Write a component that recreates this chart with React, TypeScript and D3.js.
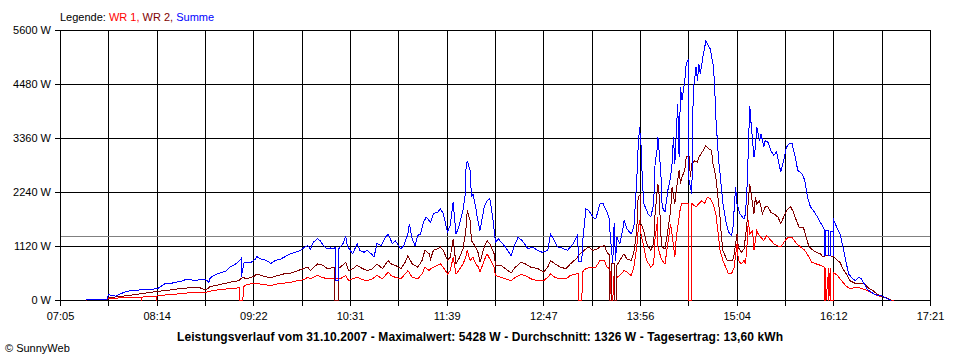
import React from "react";
import * as d3 from "d3";

// time axis labels (every second grid line) and power ticks
const xTickLabels = ["07:05", "08:14", "09:22", "10:31", "11:39", "12:47", "13:56", "15:04", "16:12", "17:21"];
const yTicks = [0, 1120, 2240, 3360, 4480, 5600];
const average = 1326;

const legendItems = [
  { label: "WR 1,", color: "#ff0000" },
  { label: "WR 2,", color: "#800000" },
  { label: "Summe", color: "#0000ff" },
];

const title =
  "Leistungsverlauf vom 31.10.2007 - Maximalwert: 5428 W - Durchschnitt: 1326 W - Tagesertrag: 13,60 kWh";

// [time, W]
const wr1: [string, number][] = [
  ["07:23", 10], ["07:38", 20], ["07:39", 40], ["07:45", 50], ["07:55", 70], ["08:02", 70], ["08:02", 0], ["08:02", 70],
  ["08:07", 80], ["08:13", 90], ["08:13", 0], ["08:13", 90], ["08:14", 100], ["08:21", 120], ["08:30", 140], ["08:39", 170],
  ["08:48", 170], ["08:53", 210], ["09:03", 240], ["09:10", 260], ["09:12", 270], ["09:12", 0], ["09:14", 0], ["09:15", 310],
  ["09:20", 350], ["09:24", 350], ["09:29", 330], ["09:34", 310], ["09:39", 350], ["09:43", 360], ["09:48", 380], ["09:53", 410],
  ["09:57", 430], ["10:00", 480], ["10:02", 450], ["10:07", 520], ["10:11", 470], ["10:16", 450], ["10:20", 450], ["10:23", 450],
  ["10:27", 520], ["10:29", 410], ["10:32", 450], ["10:35", 480], ["10:39", 430], ["10:42", 410], ["10:46", 450], ["10:49", 520],
  ["10:53", 450], ["10:57", 590], ["10:59", 520], ["11:02", 480], ["11:06", 450], ["11:09", 550], ["11:11", 620], ["11:14", 480],
  ["11:18", 450], ["11:21", 550], ["11:23", 690], ["11:26", 620], ["11:27", 660], ["11:29", 690], ["11:32", 730], ["11:34", 760],
  ["11:36", 690], ["11:39", 550], ["11:41", 620], ["11:43", 900], ["11:45", 550], ["11:47", 620], ["11:50", 760], ["11:52", 900],
  ["11:53", 1040], ["11:55", 830], ["11:57", 900], ["11:59", 760], ["12:01", 690], ["12:02", 590], ["12:05", 830], ["12:07", 970],
  ["12:09", 860], ["12:12", 690], ["12:13", 520], ["12:17", 480], ["12:20", 450], ["12:24", 410], ["12:27", 480], ["12:31", 540],
  ["12:34", 520], ["12:38", 450], ["12:43", 410], ["12:47", 410], ["12:50", 480], ["12:52", 550], ["12:55", 480], ["12:59", 450],
  ["13:03", 450], ["13:06", 520], ["13:10", 550], ["13:12", 560], ["13:12", 0], ["13:14", 0], ["13:15", 620], ["13:17", 660],
  ["13:20", 690], ["13:24", 690], ["13:27", 830], ["13:30", 830], ["13:32", 690], ["13:34", 660], ["13:35", 0], ["13:36", 0],
  ["13:37", 560], ["13:37", 0], ["13:39", 0], ["13:39", 480], ["13:41", 520], ["13:44", 620], ["13:46", 590], ["13:49", 520],
  ["13:51", 690], ["13:53", 1110], ["13:54", 1450], ["13:55", 1660], ["13:56", 1380], ["13:58", 1110], ["14:00", 830], ["14:03", 690],
  ["14:05", 760], ["14:06", 1310], ["14:08", 1730], ["14:08", 1110], ["14:10", 900], ["14:11", 830], ["14:13", 760], ["14:15", 1180],
  ["14:17", 1590], ["14:18", 1380], ["14:20", 900], ["14:21", 1310], ["14:23", 1730], ["14:24", 1940], ["14:25", 2010], ["14:27", 2010],
  ["14:30", 2010], ["14:30", 0], ["14:32", 0], ["14:32", 2010], ["14:35", 1940], ["14:37", 2010], ["14:39", 2070], ["14:41", 2010],
  ["14:43", 2140], ["14:45", 2110], ["14:47", 2010], ["14:49", 1800], ["14:51", 1310], ["14:52", 1040], ["14:54", 830], ["14:56", 690],
  ["14:58", 550], ["15:00", 550], ["15:02", 690], ["15:04", 1180], ["15:05", 830], ["15:07", 760], ["15:09", 830], ["15:10", 760],
  ["15:11", 1110], ["15:12", 1660], ["15:13", 1380], ["15:15", 1450], ["15:16", 1040], ["15:18", 1450], ["15:19", 1380], ["15:21", 1310],
  ["15:23", 1240], ["15:25", 1350], ["15:27", 1280], ["15:30", 1180], ["15:32", 1140], ["15:35", 1110], ["15:38", 1240], ["15:40", 1310],
  ["15:43", 1310], ["15:46", 1180], ["15:49", 1110], ["15:52", 1040], ["15:55", 900], ["15:57", 790], ["16:00", 760], ["16:03", 730],
  ["16:06", 690], ["16:06", 0], ["16:07", 680], ["16:07", 0], ["16:09", 680], ["16:09", 0], ["16:10", 670], ["16:10", 0],
  ["16:12", 0], ["16:12", 590], ["16:15", 520], ["16:18", 410], ["16:21", 310], ["16:24", 240], ["16:28", 280], ["16:31", 260],
  ["16:35", 220], ["16:39", 170], ["16:42", 120], ["16:46", 80], ["16:49", 60], ["16:53", 10], ["16:55", 0],
];

const wr2: [string, number][] = [
  ["07:23", 10], ["07:38", 20], ["07:39", 60], ["07:47", 80], ["08:02", 140], ["08:14", 190], ["08:21", 210], ["08:28", 240],
  ["08:35", 260], ["08:44", 260], ["08:48", 220], ["08:51", 290], ["08:58", 330], ["09:05", 380], ["09:11", 410], ["09:14", 480],
  ["09:17", 450], ["09:22", 500], ["09:24", 550], ["09:29", 500], ["09:34", 470], ["09:39", 520], ["09:43", 550], ["09:48", 570],
  ["09:53", 620], ["09:57", 660], ["10:00", 690], ["10:02", 620], ["10:07", 760], ["10:11", 730], ["10:14", 660], ["10:18", 680],
  ["10:19", 680], ["10:19", 0], ["10:22", 0], ["10:22", 690], ["10:23", 690], ["10:27", 790], ["10:29", 620], ["10:32", 660],
  ["10:35", 730], ["10:39", 660], ["10:42", 620], ["10:46", 660], ["10:49", 760], ["10:53", 660], ["10:57", 830], ["10:59", 760],
  ["11:02", 730], ["11:06", 660], ["11:09", 790], ["11:11", 930], ["11:14", 760], ["11:18", 690], ["11:21", 830], ["11:23", 1040],
  ["11:26", 970], ["11:27", 860], ["11:29", 1040], ["11:32", 1070], ["11:34", 1110], ["11:36", 1040], ["11:39", 830], ["11:41", 900],
  ["11:43", 1280], ["11:45", 760], ["11:47", 860], ["11:50", 1070], ["11:52", 1450], ["11:53", 1870], ["11:55", 1660], ["11:56", 1240],
  ["11:59", 1110], ["12:01", 970], ["12:02", 790], ["12:05", 1110], ["12:07", 1240], ["12:09", 1180], ["12:12", 970], ["12:13", 730],
  ["12:17", 730], ["12:20", 660], ["12:24", 570], ["12:27", 690], ["12:31", 790], ["12:34", 760], ["12:38", 690], ["12:43", 660],
  ["12:47", 590], ["12:50", 690], ["12:52", 830], ["12:55", 760], ["12:59", 690], ["13:03", 660], ["13:06", 760], ["13:10", 860],
  ["13:13", 970], ["13:17", 1070], ["13:19", 1110], ["13:22", 1040], ["13:25", 1070], ["13:27", 1110], ["13:30", 1140], ["13:32", 1000],
  ["13:34", 930], ["13:34", 0], ["13:35", 0], ["13:35", 760], ["13:37", 760], ["13:37", 0], ["13:39", 0], ["13:39", 730],
  ["13:41", 830], ["13:44", 970], ["13:46", 860], ["13:49", 830], ["13:51", 1000], ["13:53", 1450], ["13:54", 2140], ["13:56", 2210],
  ["13:56", 1590], ["13:58", 1450], ["14:00", 1180], ["14:03", 1040], ["14:05", 1180], ["14:06", 1800], ["14:08", 2420], ["14:09", 2140],
  ["14:10", 1380], ["14:11", 1110], ["14:13", 1070], ["14:15", 1450], ["14:17", 1870], ["14:18", 2350], ["14:20", 2010], ["14:21", 2280],
  ["14:23", 2700], ["14:24", 2420], ["14:25", 2560], ["14:27", 2700], ["14:28", 2970], ["14:30", 3010], ["14:31", 2560], ["14:32", 2840],
  ["14:34", 2900], ["14:36", 2870], ["14:37", 2970], ["14:40", 3110], ["14:42", 3210], ["14:44", 3150], ["14:46", 3110], ["14:47", 2840],
  ["14:49", 2560], ["14:50", 2280], ["14:52", 1730], ["14:53", 1310], ["14:54", 1040], ["14:57", 830], ["14:59", 830], ["15:01", 830],
  ["15:02", 970], ["15:04", 1380], ["15:05", 1100], ["15:07", 1000], ["15:09", 1070], ["15:11", 1590], ["15:12", 2070], ["15:13", 2420],
  ["15:14", 2210], ["15:16", 1800], ["15:17", 2140], ["15:18", 2010], ["15:20", 2070], ["15:22", 1800], ["15:24", 1940], ["15:26", 1940],
  ["15:28", 1830], ["15:30", 1800], ["15:33", 1730], ["15:35", 1590], ["15:38", 1800], ["15:40", 1900], ["15:42", 1940], ["15:44", 1830],
  ["15:46", 1660], ["15:48", 1520], ["15:51", 1520], ["15:53", 1310], ["15:55", 1110], ["15:58", 1040], ["16:00", 1000], ["16:03", 970],
  ["16:05", 900], ["16:07", 930], ["16:10", 930], ["16:13", 900], ["16:15", 830], ["16:17", 790], ["16:19", 660], ["16:22", 520],
  ["16:24", 410], ["16:28", 350], ["16:31", 360], ["16:34", 350], ["16:37", 260], ["16:40", 210], ["16:43", 140], ["16:47", 80],
  ["16:51", 40], ["16:54", 0],
];

const summe: [string, number][] = [
  ["07:23", 20], ["07:38", 30], ["07:39", 120], ["07:44", 90], ["07:50", 170], ["07:55", 210], ["08:02", 220], ["08:09", 230],
  ["08:14", 250], ["08:16", 290], ["08:19", 350], ["08:23", 350], ["08:26", 380], ["08:30", 390], ["08:34", 440], ["08:37", 430],
  ["08:41", 410], ["08:44", 440], ["08:48", 430], ["08:50", 380], ["08:51", 470], ["08:55", 540], ["08:58", 570], ["09:02", 610],
  ["09:05", 690], ["09:09", 760], ["09:12", 830], ["09:13", 870], ["09:13", 480], ["09:15", 790], ["09:16", 790], ["09:20", 790],
  ["09:23", 860], ["09:24", 910], ["09:27", 860], ["09:30", 840], ["09:34", 770], ["09:37", 830], ["09:41", 860], ["09:44", 910],
  ["09:48", 970], ["09:51", 1000], ["09:55", 1040], ["09:57", 1090], ["10:00", 1140], ["10:02", 1070], ["10:04", 1210], ["10:07", 1280],
  ["10:09", 1240], ["10:11", 1140], ["10:14", 1070], ["10:16", 1090], ["10:18", 1070], ["10:20", 1110], ["10:20", 410], ["10:22", 410],
  ["10:22", 1070], ["10:23", 1110], ["10:25", 1180], ["10:27", 1330], ["10:28", 1140], ["10:30", 1040], ["10:32", 970], ["10:35", 1180],
  ["10:37", 1040], ["10:40", 1000], ["10:42", 1040], ["10:45", 970], ["10:47", 900], ["10:49", 1180], ["10:52", 1140], ["10:55", 1310],
  ["10:57", 1380], ["11:00", 1180], ["11:02", 1240], ["11:06", 1070], ["11:08", 1140], ["11:11", 1380], ["11:12", 1590], ["11:14", 1280],
  ["11:16", 1140], ["11:18", 1350], ["11:20", 1380], ["11:22", 1620], ["11:24", 1730], ["11:27", 1620], ["11:29", 1800], ["11:32", 1830],
  ["11:34", 1900], ["11:36", 1800], ["11:39", 1420], ["11:41", 1560], ["11:43", 2040], ["11:45", 1380], ["11:47", 1520], ["11:50", 1870],
  ["11:52", 2280], ["11:52", 2700], ["11:53", 2900], ["11:55", 2700], ["11:56", 2140], ["11:57", 2210], ["11:59", 1940], ["12:00", 1730],
  ["12:02", 1450], ["12:05", 1940], ["12:07", 2070], ["12:09", 2110], ["12:11", 1730], ["12:13", 1210], ["12:15", 1280], ["12:18", 1180],
  ["12:20", 1110], ["12:24", 930], ["12:27", 1180], ["12:29", 1310], ["12:32", 1240], ["12:36", 1070], ["12:39", 1110], ["12:43", 1040],
  ["12:46", 1000], ["12:50", 1040], ["12:52", 1380], ["12:54", 1280], ["12:57", 1110], ["13:00", 1090], ["13:04", 1040], ["13:08", 1180],
  ["13:11", 1350], ["13:12", 810], ["13:14", 800], ["13:15", 1310], ["13:17", 1900], ["13:19", 1870], ["13:22", 1730], ["13:24", 1690],
  ["13:27", 2010], ["13:29", 2020], ["13:32", 1830], ["13:34", 1660], ["13:34", 1450], ["13:36", 770], ["13:37", 1600], ["13:38", 830],
  ["13:39", 1310], ["13:41", 1180], ["13:43", 1450], ["13:44", 1660], ["13:46", 1490], ["13:49", 1380], ["13:51", 1520], ["13:53", 2490],
  ["13:54", 3180], ["13:55", 3590], ["13:56", 3250], ["13:57", 2490], ["13:58", 2010], ["14:01", 1800], ["14:03", 1730], ["14:05", 2010],
  ["14:06", 2840], ["14:08", 3250], ["14:08", 3390], ["14:10", 2700], ["14:11", 1940], ["14:13", 1830], ["14:15", 2280], ["14:17", 2560],
  ["14:18", 2840], ["14:19", 3390], ["14:20", 2840], ["14:22", 4080], ["14:23", 2970], ["14:24", 4420], ["14:25", 4150], ["14:27", 4560],
  ["14:28", 4910], ["14:30", 5010], ["14:30", 2500], ["14:32", 2200], ["14:33", 4360], ["14:35", 4840], ["14:36", 4560], ["14:37", 4910],
  ["14:38", 4700], ["14:40", 5080], ["14:42", 5390], ["14:43", 5320], ["14:45", 5220], ["14:47", 4910], ["14:48", 4560], ["14:49", 3800],
  ["14:51", 2900], ["14:52", 2630], ["14:54", 2010], ["14:56", 1660], ["14:58", 1420], ["15:00", 1350], ["15:01", 1450], ["15:03", 2350],
  ["15:04", 2010], ["15:06", 1800], ["15:09", 1690], ["15:10", 1800], ["15:11", 2280], ["15:12", 3110], ["15:13", 4040], ["15:14", 3660],
  ["15:16", 2970], ["15:17", 3180], ["15:18", 3590], ["15:20", 3320], ["15:21", 3460], ["15:23", 3180], ["15:24", 3320], ["15:26", 3280],
  ["15:28", 3110], ["15:30", 3010], ["15:32", 3080], ["15:34", 2800], ["15:35", 2660], ["15:37", 2900], ["15:39", 3180], ["15:41", 3250],
  ["15:43", 3250], ["15:45", 3010], ["15:47", 2700], ["15:50", 2630], ["15:52", 2490], ["15:54", 2140], ["15:56", 1940], ["15:58", 1870],
  ["16:01", 1730], ["16:03", 1620], ["16:05", 1520], ["16:06", 1450], ["16:06", 930], ["16:07", 930], ["16:07", 1450], ["16:09", 1450],
  ["16:09", 930], ["16:10", 930], ["16:10", 1430], ["16:12", 1430], ["16:12", 930], ["16:12", 1700], ["16:14", 1560], ["16:17", 1380],
  ["16:19", 1110], ["16:21", 830], ["16:23", 550], ["16:26", 450], ["16:28", 410], ["16:30", 480], ["16:32", 450], ["16:34", 350],
  ["16:36", 240], ["16:39", 170], ["16:42", 120], ["16:46", 100], ["16:49", 60], ["16:53", 0],
];

const series = [
  { name: "WR 1", color: "#ff0000", data: wr1 },
  { name: "WR 2", color: "#800000", data: wr2 },
  { name: "Summe", color: "#0000ff", data: summe },
];

const toMin = (s: string) => {
  const [h, m] = s.split(":").map(Number);
  return h * 60 + m;
};

const font = "Arial, 'Liberation Sans', sans-serif";
const crisp = (v: number) => Math.round(v) + 0.5;

export default function App() {
  const left = 60, right = 930, top = 30, bottom = 300;
  const t0 = toMin(xTickLabels[0]);
  const t1 = toMin(xTickLabels[xTickLabels.length - 1]);

  const x = d3.scaleLinear().domain([t0, t1]).range([left, right]);
  const y = d3.scaleLinear().domain([0, 5600]).range([bottom, top]);

  // 18 grid intervals, a label on every second line
  const gridTimes = d3.range(19).map((i) => t0 + (i * (t1 - t0)) / 18);

  const line = d3
    .line<[string, number]>()
    .x((d) => x(toMin(d[0])))
    .y((d) => y(d[1]));

  return (
    <svg
      width={960}
      height={360}
      style={{ position: "absolute", left: 0, top: 0, background: "#fff" }}
      fontFamily={font}
      fontSize={11}
    >
      <rect width={960} height={360} fill="#fff" />

      {/* legend */}
      <text x={left} y={20.5} fill="#000">
        Legende:{" "}
        {legendItems.map((d) => (
          <tspan key={d.label} fill={d.color}>
            {d.label}{" "}
          </tspan>
        ))}
      </text>

      {/* vertical grid */}
      {gridTimes.map((t, i) => (
        <line
          key={"v" + i}
          x1={crisp(x(t))}
          x2={crisp(x(t))}
          y1={top}
          y2={bottom + 6}
          stroke="#000"
          shapeRendering="crispEdges"
        />
      ))}
      {xTickLabels.map((l, i) => (
        <text key={l} x={x(gridTimes[i * 2]) + 0.5} y={320} textAnchor="middle">
          {l}
        </text>
      ))}

      {/* horizontal grid */}
      {yTicks.map((v) => (
        <g key={"h" + v}>
          <line
            x1={left - 5}
            x2={right + 1}
            y1={crisp(y(v))}
            y2={crisp(y(v))}
            stroke="#000"
            shapeRendering="crispEdges"
          />
          <text x={51} y={y(v) + 4} textAnchor="end">
            {v} W
          </text>
        </g>
      ))}

      {/* average */}
      <line
        x1={left + 1}
        x2={right}
        y1={crisp(y(average))}
        y2={crisp(y(average))}
        stroke="#808080"
        shapeRendering="crispEdges"
      />

      {/* series */}
      <g transform="translate(0.5,0.5)">
        {series.map((s) => (
          <path
            key={s.name}
            d={line(s.data) ?? ""}
            fill="none"
            stroke={s.color}
            strokeWidth={1}
            shapeRendering="crispEdges"
          />
        ))}
      </g>

      <text
        x={480}
        y={340.5}
        textAnchor="middle"
        fontWeight="bold"
        fontSize={12}
        textLength={606}
        lengthAdjust="spacing"
      >
        {title}
      </text>
      <text x={5} y={352} fontSize={11}>
        © SunnyWeb
      </text>
    </svg>
  );
}
